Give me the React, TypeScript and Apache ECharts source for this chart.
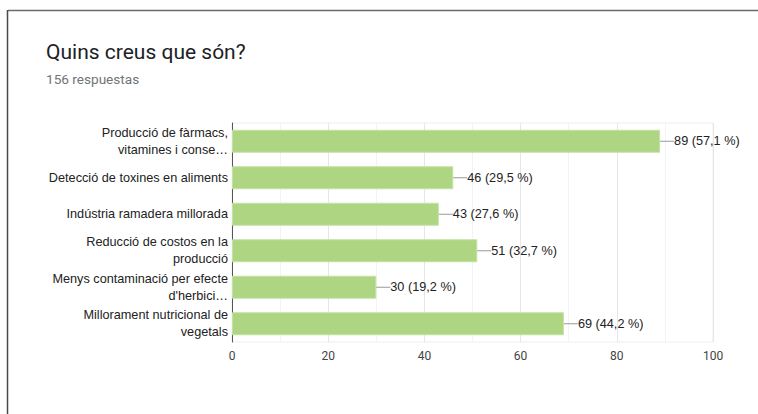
import React, { useEffect, useRef } from "react";
import * as echarts from "echarts";

const categories: string[] = [
  "Producció de fàrmacs,\nvitamines i conse…",
  "Detecció de toxines en aliments",
  "Indústria ramadera millorada",
  "Reducció de costos en la\nproducció",
  "Menys contaminació per efecte\nd'herbici…",
  "Millorament nutricional de\nvegetals",
];
const counts: number[] = [89, 46, 43, 51, 30, 69];
const percents: string[] = ["57,1", "29,5", "27,6", "32,7", "19,2", "44,2"];
const xTicks = { min: 0, max: 100, interval: 20 };
const title = "Quins creus que són?";
const subtitle = "156 respuestas";

export default function App() {
  const ref = useRef<HTMLDivElement>(null);
  useEffect(() => {
    if (!ref.current) return;
    const chart = echarts.init(ref.current, undefined, { renderer: "svg" });
    chart.setOption({
      animation: false,
      backgroundColor: "#ffffff",
      title: [
        {
          text: title,
          left: 46,
          top: 41,
          padding: 0,
          textStyle: { fontFamily: "Roboto", fontSize: 21, fontWeight: "normal", color: "#202124" },
        },
        {
          text: subtitle,
          left: 46,
          top: 72,
          padding: 0,
          textStyle: { fontFamily: "Roboto", fontSize: 13.6, fontWeight: "normal", color: "#70757a" },
        },
      ],
      graphic: [
        { type: "line", shape: { x1: 8, y1: 10.5, x2: 758, y2: 10.5 }, style: { stroke: "#6b6b6b", lineWidth: 1.5 } },
        { type: "line", shape: { x1: 7.5, y1: 10, x2: 7.5, y2: 414 }, style: { stroke: "#4a4a4a", lineWidth: 1.5 } },
      ],
      grid: {
        left: 232,
        right: 45,
        top: 123,
        bottom: 72,
        show: true,
        borderColor: "#eeeeee",
        borderWidth: 1,
      },
      xAxis: {
        type: "value",
        min: xTicks.min,
        max: xTicks.max,
        interval: xTicks.interval,
        axisLine: { show: false },
        axisTick: { show: false },
        axisLabel: { color: "#444444", fontFamily: "Roboto", fontSize: 12, margin: 8 },
        splitLine: { show: true, lineStyle: { color: "#e6e6e6" } },
        minorTick: { show: false, splitNumber: 2 },
        minorSplitLine: { show: true, lineStyle: { color: "#f3f3f3" } },
      },
      yAxis: {
        type: "category",
        inverse: true,
        data: categories,
        axisLine: { show: true, lineStyle: { color: "#555555", width: 1 } },
        axisTick: { show: false },
        axisLabel: {
          color: "#222222",
          fontFamily: "Liberation Sans, Arial",
          fontSize: 12.7,
          lineHeight: 17,
          margin: 4,
          align: "right",
        },
        splitLine: { show: false },
      },
      series: [
        {
          type: "bar",
          data: counts,
          barCategoryGap: "37%",
          itemStyle: { color: "#aed581", borderColor: "#c5e1a5", borderWidth: 1 },
          label: {
            show: true,
            position: "right",
            distance: 0,
            color: "#222222",
            fontFamily: "Liberation Sans, Arial",
            fontSize: 12.7,
            formatter: (p: any) => `${p.value} (${percents[p.dataIndex]} %)`,
          },
          labelLayout: { dx: 14 },
          labelLine: { show: true, lineStyle: { color: "#999999", width: 1 } },
        },
      ],
    });
    return () => chart.dispose();
  }, []);
  return (
    <div
      ref={ref}
      style={{ position: "absolute", left: 0, top: 0, width: 758, height: 414 }}
    />
  );
}
